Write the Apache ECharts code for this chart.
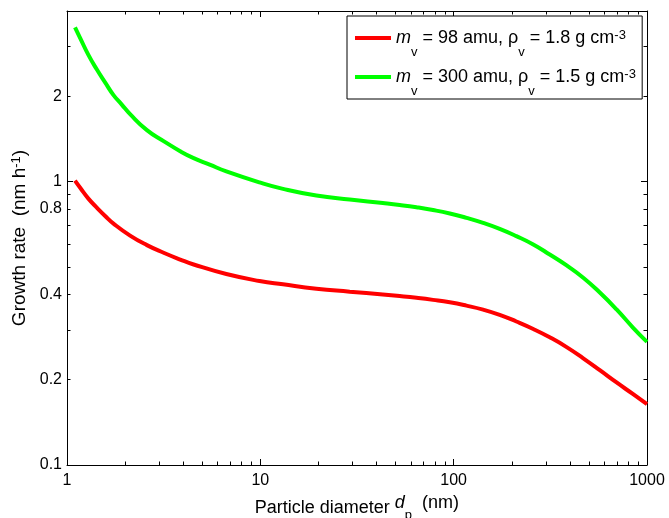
<!DOCTYPE html>
<html><head><meta charset="utf-8">
<script src="https://cdn.jsdelivr.net/npm/echarts@6/dist/echarts.min.js"></script>
<style>html,body{margin:0;padding:0;background:#fff}#c{width:669px;height:518px}</style>
</head><body><div id="c"></div>
<script>
// ---- data ----
const diameterGreen = [1.10, 1.17, 1.29, 1.43, 1.58, 1.74, 1.92, 2.12, 2.59, 3.16, 3.85, 4.52, 5.47, 6.67, 9.9, 13.1, 19.5, 29, 43, 52.6, 64.2, 78.2, 95.5, 116.5, 142, 173, 211, 258, 314, 384, 468, 570, 696, 848, 1000];
const rateGreen = [3.50, 3.21, 2.80, 2.48, 2.23, 2.02, 1.87, 1.73, 1.52, 1.39, 1.28, 1.21, 1.148, 1.087, 0.994, 0.943, 0.893, 0.864, 0.840, 0.827, 0.812, 0.794, 0.772, 0.745, 0.715, 0.681, 0.642, 0.600, 0.553, 0.506, 0.458, 0.406, 0.354, 0.305, 0.272];
const diameterRed = [1.10, 1.17, 1.29, 1.43, 1.58, 1.74, 2.12, 2.59, 3.16, 3.85, 4.52, 6.67, 9.9, 13.1, 19.5, 29, 43, 52.6, 64.2, 78.2, 95.5, 116.5, 142, 173, 211, 258, 314, 384, 468, 570, 696, 848, 1000];
const rateRed = [1.008, 0.951, 0.871, 0.808, 0.755, 0.711, 0.645, 0.597, 0.561, 0.531, 0.510, 0.472, 0.446, 0.434, 0.419, 0.409, 0.3995, 0.3945, 0.389, 0.3826, 0.375, 0.365, 0.3534, 0.3388, 0.3209, 0.302, 0.2823, 0.2607, 0.238, 0.216, 0.1955, 0.1778, 0.164];
const seriesNames = ['mv = 98 amu, ρv = 1.8 g cm-3', 'mv = 300 amu, ρv = 1.5 g cm-3'];
const legendLabels = [
  '{i|m}{sub|v}{n| = 98 amu, ρ}{sub|v}{n| = 1.8 g cm}{sup|-3}{h| }',
  '{i|m}{sub|v}{n| = 300 amu, ρ}{sub|v}{n| = 1.5 g cm}{sup|-3}{h| }'
];
const xTickLabels = [1, 10, 100, 1000];
const xMajorTicks = [1, 10, 100, 1000];
const xMinorTicks = [2,3,4,5,6,7,8,9,20,30,40,50,60,70,80,90,200,300,400,500,600,700,800,900];
const yTickLabels = [0.1, 0.2, 0.4, 0.8, 1, 2];
const yMajorTicks = [0.1, 1];
const yMinorTicks = [0.2,0.3,0.4,0.5,0.6,0.7,0.8,0.9,2,3];
const xTitle = 'Particle diameter {i|d}{sub|p}{n|  (nm)}{h| }';
const yTitle = 'Growth rate  (nm h{sup|-1})';

// ---- chart ----
const FF = '"Liberation Sans", Arial, Helvetica, sans-serif';
const chart = echarts.init(document.getElementById('c'), null, {renderer: 'canvas'});
const fmt = v => String(Math.round(v * 1000) / 1000);
const xCommon = {type: 'log', logBase: 10, min: 1, max: 1000, splitLine: {show: false}};
const yCommon = {type: 'log', logBase: 10, min: 0.1, max: 4, splitLine: {show: false}};
const lineCol = '#000';
function tickAx(common, pos, vals, len, showLine) {
  return Object.assign({}, common, {
    position: pos,
    axisLine: {show: showLine, onZero: false, lineStyle: {color: lineCol, width: 1}},
    axisTick: {show: true, inside: true, length: len, customValues: vals, lineStyle: {color: lineCol, width: 1}},
    axisLabel: {show: false}
  });
}
const FS = 18;
const richLegend = {
  n: {fontSize: FS, lineHeight: FS, verticalAlign: 'top', fontFamily: FF, color: '#000'},
  i: {fontSize: FS, lineHeight: FS, verticalAlign: 'top', fontFamily: FF, color: '#000', fontStyle: 'italic'},
  sub: {fontSize: 13, lineHeight: 13, verticalAlign: 'bottom', fontFamily: FF, color: '#000'},
  sup: {fontSize: 13, lineHeight: 13, verticalAlign: 'top', fontFamily: FF, color: '#000'},
  h: {fontSize: 1, lineHeight: 30, fontFamily: FF}
};
const richX = {
  n: {fontSize: FS, lineHeight: FS, verticalAlign: 'top', fontFamily: FF, color: '#000'},
  i: {fontSize: FS, lineHeight: FS, verticalAlign: 'top', fontFamily: FF, color: '#000', fontStyle: 'italic'},
  sub: {fontSize: 13, lineHeight: 13, verticalAlign: 'bottom', fontFamily: FF, color: '#000'},
  h: {fontSize: 1, lineHeight: 28, fontFamily: FF}
};
const richY = {
  sup: {fontSize: 13, lineHeight: 15, verticalAlign: 'top', fontFamily: FF, color: '#000'}
};

const option = {
  animation: false,
  backgroundColor: '#fff',
  grid: {left: 67, right: 22, top: 11, bottom: 53, containLabel: false, outerBoundsMode: 'none'},
  legend: {
    orient: 'vertical', left: 347, top: 16,
    padding: [13, 6, 1, 8], itemGap: 9,
    itemWidth: 36, itemHeight: 4, icon: 'rect',
    borderColor: '#000', borderWidth: 1, backgroundColor: '#fff',
    formatter: name => legendLabels[seriesNames.indexOf(name)],
    textStyle: {fontFamily: FF, fontSize: FS, color: '#000', padding: [12, 0, 0, 0], rich: richLegend},
    data: seriesNames
  },
  xAxis: [
    Object.assign({}, xCommon, {
      position: 'bottom',
      axisLine: {show: true, onZero: false, lineStyle: {color: lineCol, width: 1}},
      axisTick: {show: true, inside: true, length: 6, customValues: xMajorTicks, lineStyle: {color: lineCol}},
      axisLabel: {customValues: xTickLabels, formatter: fmt, color: '#000', fontSize: 16, fontFamily: FF, margin: 8},
      name: xTitle, nameLocation: 'middle', nameGap: 26,
      nameTextStyle: {fontFamily: FF, fontSize: FS, color: '#000', lineHeight: FS, verticalAlign: 'top', rich: richX}
    }),
    tickAx(xCommon, 'bottom', xMinorTicks, 3.5, false),
    tickAx(xCommon, 'top', xMajorTicks, 6, true),
    tickAx(xCommon, 'top', xMinorTicks, 3.5, false)
  ],
  yAxis: [
    Object.assign({}, yCommon, {
      position: 'left',
      axisLine: {show: true, onZero: false, lineStyle: {color: lineCol, width: 1}},
      axisTick: {show: true, inside: true, length: 6, customValues: yMajorTicks, lineStyle: {color: lineCol}},
      axisLabel: {customValues: yTickLabels, formatter: fmt, color: '#000', fontSize: 16, fontFamily: FF, margin: 5},
      name: yTitle, nameLocation: 'middle', nameGap: 37,
      nameTextStyle: {fontFamily: FF, fontSize: 19, color: '#000', lineHeight: 19, rich: richY}
    }),
    tickAx(yCommon, 'left', yMinorTicks, 3.5, false),
    tickAx(yCommon, 'right', yMajorTicks, 6, true),
    tickAx(yCommon, 'right', yMinorTicks, 3.5, false)
  ],
  series: [
    {
      name: seriesNames[0], type: 'line', xAxisIndex: 0, yAxisIndex: 0,
      data: diameterRed.map((d, k) => [d, rateRed[k]]),
      showSymbol: false, smooth: 0.5, clip: true,
      lineStyle: {color: '#ff0000', width: 4}, itemStyle: {color: '#ff0000'}
    },
    {
      name: seriesNames[1], type: 'line', xAxisIndex: 0, yAxisIndex: 0,
      data: diameterGreen.map((d, k) => [d, rateGreen[k]]),
      showSymbol: false, smooth: 0.5, clip: true,
      lineStyle: {color: '#00ff00', width: 4}, itemStyle: {color: '#00ff00'}
    }
  ]
};
chart.setOption(option);
</script>
</body></html>
